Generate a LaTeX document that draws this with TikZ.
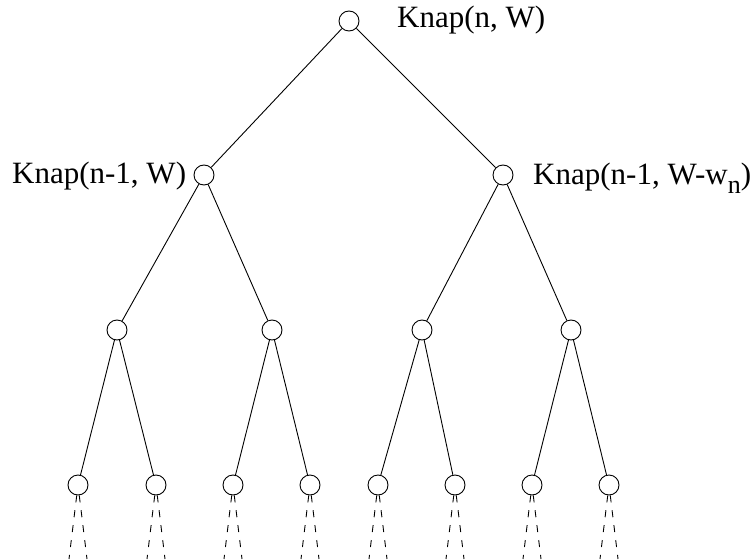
\documentclass[tikz,border=0pt]{standalone}
\usepackage{fontspec}
\setmainfont{Liberation Serif}
\begin{document}
\begin{tikzpicture}[x=1pt,y=-1pt,
  nd/.style={circle,draw,line width=0.9pt,minimum size=20pt,inner sep=0pt},
  edge/.style={line width=0.9pt},
  dsh/.style={line width=0.9pt,dash pattern=on 7pt off 8pt},
  lbl/.style={inner sep=0pt,anchor=base west,font=\fontsize{31}{31}\selectfont}]
\useasboundingbox (0,0) rectangle (754,559);
\node[nd] (r) at (349,21) {};
\node[nd] (a) at (204,175) {};
\node[nd] (b) at (503,175) {};
\node[nd] (a1) at (117,330) {};
\node[nd] (a2) at (272,330) {};
\node[nd] (b1) at (422,330) {};
\node[nd] (b2) at (571,330) {};
\foreach \n/\x in {c1/78,c2/156,c3/233,c4/310,c5/378,c6/455,c7/532,c8/609}{
  \node[nd] (\n) at (\x,485) {};
  \coordinate (\n l) at (\x-9,559);
  \coordinate (\n r) at (\x+9,559);
  \draw[dsh] (\n) -- (\n l);
  \draw[dsh] (\n) -- (\n r);
}
\draw[edge] (r) -- (a);
\draw[edge] (r) -- (b);
\draw[edge] (a) -- (a1);
\draw[edge] (a) -- (a2);
\draw[edge] (b) -- (b1);
\draw[edge] (b) -- (b2);
\draw[edge] (a1) -- (c1);
\draw[edge] (a1) -- (c2);
\draw[edge] (a2) -- (c3);
\draw[edge] (a2) -- (c4);
\draw[edge] (b1) -- (c5);
\draw[edge] (b1) -- (c6);
\draw[edge] (b2) -- (c7);
\draw[edge] (b2) -- (c8);
\node[lbl] (t0) at (397,28) {Knap(n, W)};
\node[lbl] (t1) at (12,183) {Knap(n-1, W)};
\node[lbl] (t2) at (533,184) {Knap(n-1, W-w\raisebox{-9pt}{\fontsize{26}{26}\selectfont n})};
\end{tikzpicture}
\end{document}
